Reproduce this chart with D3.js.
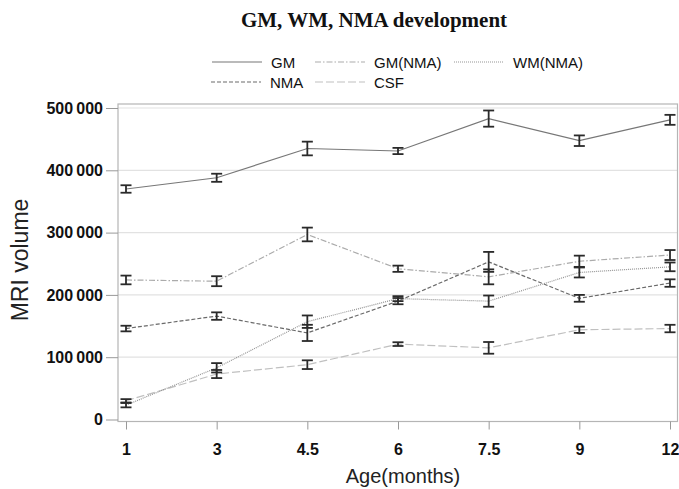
<!DOCTYPE html>
<html><head><meta charset="utf-8">
<script src="https://cdn.jsdelivr.net/npm/d3@7"></script>
<style>body{margin:0;background:#fff}svg{display:block}</style>
</head><body>
<svg id="c" width="679" height="489"></svg>
<script>
const ages = ["1","3","4.5","6","7.5","9","12"];
const yTicks = [0,100000,200000,300000,400000,500000];
const seriesNames = ["GM","GM(NMA)","WM(NMA)","NMA","CSF"];
const gm       = [370000,388000,435000,431000,483000,447500,481000];
const gmErr    = [6000,6500,11000,5000,13000,8500,8000];
const gmNma    = [224000,222000,297000,242000,229000,254000,264000];
const gmNmaErr = [7000,8000,11000,5000,12000,9000,8000];
const wmNma    = [23000,83000,157000,194000,190000,236000,245000];
const wmNmaErr = [3500,7500,10000,4000,9000,8000,7000];
const nma      = [146000,166000,139000,190000,253000,194500,219000];
const nmaErr   = [4500,6000,13000,5000,16000,5500,6000];
const csf      = [30000,73000,88000,121000,115000,144000,146000];
const csfErr   = [2700,6500,7000,3000,9400,5000,6000];

const styles = {
  "GM":      {color:"#777777", dash:null},
  "GM(NMA)": {color:"#ababab", dash:"6,2,1.5,2"},
  "WM(NMA)": {color:"#959595", dash:"1,1"},
  "NMA":     {color:"#6a6a6a", dash:"4,2"},
  "CSF":     {color:"#c0c0c0", dash:"8,3"}
};
const series = [
  {name:"GM", v:gm, e:gmErr},
  {name:"GM(NMA)", v:gmNma, e:gmNmaErr},
  {name:"WM(NMA)", v:wmNma, e:wmNmaErr},
  {name:"NMA", v:nma, e:nmaErr},
  {name:"CSF", v:csf, e:csfErr}
];

const svg = d3.select("#c");
const frame = {l:118, r:677.5, t:104, b:421.5};
const x = d3.scalePoint().domain(ages).range([126,670]);
const y = d3.scaleLinear().domain([0,500000]).range([419.5,108]);

// title
svg.append("text").attr("x",374).attr("y",27).attr("text-anchor","middle")
  .attr("font-family","Liberation Serif, Times New Roman, serif").attr("font-weight","bold")
  .attr("font-size",21).attr("fill","#111").text("GM, WM, NMA development");

// gridlines
svg.append("g").selectAll("line").data(yTicks.filter(d=>d>0)).join("line")
  .attr("x1",frame.l).attr("x2",frame.r).attr("y1",d=>y(d)).attr("y2",d=>y(d))
  .attr("stroke","#e2e2e2").attr("stroke-width",1.2);

// frame
svg.append("rect").attr("x",frame.l).attr("y",frame.t)
  .attr("width",frame.r-frame.l).attr("height",frame.b-frame.t)
  .attr("fill","none").attr("stroke","#b5b5b5").attr("stroke-width",1.2);

// axes
const fmt = d => d===0 ? "0" : d3.format(",")(d).replace(/,/g,"\u2009");
const yAxis = svg.append("g").attr("transform",`translate(${frame.l},0)`)
  .call(d3.axisLeft(y).tickValues(yTicks).tickFormat(fmt).tickSize(12).tickPadding(3));
yAxis.select(".domain").remove();
yAxis.selectAll(".tick line").attr("stroke","#999");
yAxis.selectAll(".tick text").attr("font-family","Liberation Sans, Arial, sans-serif")
  .attr("font-weight","bold").attr("font-size",16).attr("fill","#111");

const xAxis = svg.append("g").attr("transform",`translate(0,${frame.b})`)
  .call(d3.axisBottom(x).tickSize(8).tickPadding(14));
xAxis.select(".domain").remove();
xAxis.selectAll(".tick line").attr("stroke","#999");
xAxis.selectAll(".tick text").attr("font-family","Liberation Sans, Arial, sans-serif")
  .attr("font-weight","bold").attr("font-size",16).attr("fill","#111");

// axis titles
svg.append("text").attr("x",403).attr("y",483).attr("text-anchor","middle")
  .attr("font-family","Liberation Sans, Arial, sans-serif").attr("font-size",20)
  .attr("fill","#222").text("Age(months)");
svg.append("text").attr("transform","translate(28,260) rotate(-90)").attr("text-anchor","middle")
  .attr("font-family","Liberation Sans, Arial, sans-serif").attr("font-size",23)
  .attr("fill","#222").text("MRI volume");

// lines
const line = d3.line().x((d,i)=>x(ages[i])).y(d=>y(d));
const gPlot = svg.append("g");
series.slice().reverse().forEach(s=>{
  const st = styles[s.name];
  gPlot.append("path").datum(s.v).attr("d",line).attr("fill","none")
    .attr("stroke",st.color).attr("stroke-width",1.2)
    .attr("stroke-dasharray",st.dash);
});

// error bars
const gErr = svg.append("g").attr("stroke","#2a2a2a").attr("stroke-width",1.8).attr("fill","none");
series.forEach(s=>{
  s.v.forEach((v,i)=>{
    const cx = x(ages[i]), y1 = y(v+s.e[i]), y2 = y(v-s.e[i]);
    gErr.append("line").attr("x1",cx).attr("x2",cx).attr("y1",y1).attr("y2",y2);
    gErr.append("line").attr("x1",cx-5.5).attr("x2",cx+5.5).attr("y1",y1).attr("y2",y1);
    gErr.append("line").attr("x1",cx-5.5).attr("x2",cx+5.5).attr("y1",y2).attr("y2",y2);
  });
});

// legend
const legendPos = [
  {name:"GM", x:212, y:62},
  {name:"GM(NMA)", x:315, y:62},
  {name:"WM(NMA)", x:454, y:62},
  {name:"NMA", x:211, y:82},
  {name:"CSF", x:315, y:82}
];
const gl = svg.append("g");
legendPos.forEach(p=>{
  const st = styles[p.name];
  gl.append("line").attr("x1",p.x).attr("x2",p.x+50).attr("y1",p.y).attr("y2",p.y)
    .attr("stroke",st.color).attr("stroke-width",1.2).attr("stroke-dasharray",st.dash);
  gl.append("text").attr("x",p.x+59).attr("y",p.y+5.5)
    .attr("font-family","Liberation Sans, Arial, sans-serif").attr("font-size",15)
    .attr("fill","#111").text(p.name);
});
</script>
</body></html>
